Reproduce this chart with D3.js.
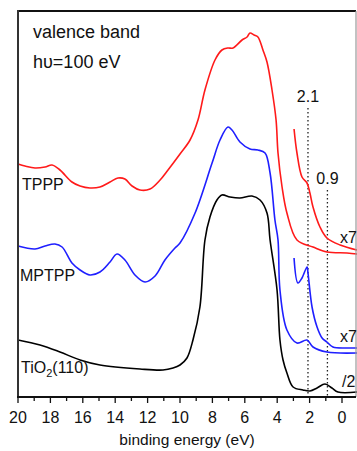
<!DOCTYPE html>
<html>
<head>
<meta charset="utf-8">
<script src="https://cdn.jsdelivr.net/npm/d3@7"></script>
<style>
  html, body { margin: 0; padding: 0; background: #fff; }
  svg text { font-family: "Liberation Sans", Arial, sans-serif; fill: #111; }
</style>
</head>
<body>
<div id="chart"></div>
<script>
// binding energy (eV) and intensity (arb. units)
const tpppEnergy = [20.0, 19.57, 18.95, 18.33, 17.9, 17.41, 16.67, 16.17, 15.56, 14.94, 14.32, 13.83, 13.4, 12.96, 12.47, 11.85, 11.23, 10.74, 10.0, 9.38, 8.89, 8.46, 7.84, 7.41, 7.04, 6.73, 6.17, 5.86, 5.68, 5.43, 5.19, 4.88, 4.63, 4.32, 4.07, 3.95, 3.7, 3.4, 2.78, 1.79, 0.93, -0.31, -0.93];
const tpppIntensity = [233, 231, 229, 230, 232, 227, 215, 211, 209, 210, 215, 219, 218, 211, 207, 208, 217, 227, 243, 257, 277, 307, 337, 347, 349, 349, 357, 360, 364, 362, 360, 347, 335, 307, 277, 244, 210, 184, 157, 150, 145, 144, 143];

const tpppZoomEnergy = [2.96, 2.78, 2.47, 2.16, 1.98, 1.79, 1.36, 0.93, 0.12, -0.93];
const tpppZoomIntensity = [268, 244, 220, 214, 204, 190, 170, 159, 152, 147];

const mptppEnergy = [20.0, 18.95, 18.33, 17.72, 17.28, 16.67, 16.17, 15.56, 14.94, 14.32, 13.89, 13.4, 12.78, 12.16, 11.54, 10.93, 10.31, 10.0, 9.07, 8.02, 7.53, 7.04, 6.79, 6.3, 5.68, 5.19, 4.75, 4.44, 4.14, 3.95, 3.83, 3.4, 2.78, 2.16, 1.79, 0.93, -0.93];
const mptppIntensity = [151, 148, 151, 153, 150, 134, 127, 122, 125, 135, 143, 137, 122, 115, 121, 137, 149, 154, 184, 234, 257, 270, 267, 255, 248, 247, 244, 224, 177, 157, 107, 67, 54, 57, 50, 45, 44];

const mptppZoomEnergy = [2.96, 2.72, 2.47, 2.16, 2.1, 1.85, 1.54, 1.23, 0.93, 0.56, -0.31, -0.93];
const mptppZoomIntensity = [139, 114, 119, 130, 124, 90, 70, 59, 55, 50, 49, 49];

const tio2Energy = [20.0, 18.64, 17.41, 16.17, 14.94, 12.47, 11.05, 10.43, 10.0, 9.57, 9.2, 8.77, 8.46, 8.15, 7.72, 7.41, 6.91, 6.3, 5.56, 5.06, 4.63, 4.44, 4.01, 3.83, 3.64, 3.4, 3.02, 2.41, 1.98, 1.54, 1.05, 0.62, 0.25, -0.93];
const tio2Intensity = [57, 52, 45, 37, 32, 28, 27, 29, 32, 39, 57, 90, 157, 180, 197, 202, 200, 199, 201, 197, 184, 157, 107, 57, 37, 24, 10, 7, 6, 9, 13, 9, 5, 5];

const xTicksMajor = [20, 18, 16, 14, 12, 10, 8, 6, 4, 2, 0];
const xTicksMinor = [19, 17, 15, 13, 11, 9, 7, 5, 3, 1];
const markerEnergies = [2.1, 0.9];
const markerLabels = ["2.1", "0.9"];

const width = 357, height = 451;
const svg = d3.select("#chart").append("svg")
    .attr("width", width)
    .attr("height", height);

const x = d3.scaleLinear().domain([20, 0]).range([18, 342]);
const y = d3.scaleLinear().domain([0, 386]).range([397, 11]);
const right = 356;

const line = d3.line()
    .x(d => x(d[0]))
    .y(d => y(d[1]))
    .curve(d3.curveCatmullRom.alpha(0.5));

function draw(energy, intensity, color) {
    svg.append("path")
        .datum(energy.map((e, i) => [e, intensity[i]]))
        .attr("fill", "none")
        .attr("stroke", color)
        .attr("stroke-width", 1.6)
        .attr("stroke-linejoin", "round")
        .attr("d", line);
}

// dotted markers
const markerTop = [108, 190];
markerEnergies.forEach((e, i) => {
    svg.append("line")
        .attr("x1", x(e)).attr("x2", x(e))
        .attr("y1", markerTop[i]).attr("y2", y(0))
        .attr("stroke", "#222")
        .attr("stroke-width", 1.3)
        .attr("stroke-dasharray", "1.5,2.5");
    svg.append("text")
        .attr("x", x(e))
        .attr("y", markerTop[i] - 6)
        .attr("text-anchor", "middle")
        .style("font-size", "16px")
        .text(markerLabels[i]);
});

draw(tpppEnergy, tpppIntensity, "#ff1a1a");
draw(tpppZoomEnergy, tpppZoomIntensity, "#ff1a1a");
draw(mptppEnergy, mptppIntensity, "#1f1fff");
draw(mptppZoomEnergy, mptppZoomIntensity, "#1f1fff");
draw(tio2Energy, tio2Intensity, "#000");

// frame
svg.append("line").attr("x1", 18).attr("x2", right).attr("y1", 11).attr("y2", 11)
    .attr("stroke", "#111").attr("stroke-width", 2);
svg.append("line").attr("x1", right).attr("x2", right).attr("y1", 11).attr("y2", 397)
    .attr("stroke", "#999").attr("stroke-width", 1.2);
svg.append("line").attr("x1", 18).attr("x2", 18).attr("y1", 10).attr("y2", 398)
    .attr("stroke", "#333").attr("stroke-width", 2);

// bottom axis
const axis = svg.append("g").attr("transform", `translate(0, ${y(0)})`);
axis.append("line").attr("x1", 17).attr("x2", right).attr("y1", 0).attr("y2", 0)
    .attr("stroke", "#111").attr("stroke-width", 2);
axis.selectAll(".major").data(xTicksMajor).enter().append("line")
    .attr("x1", d => x(d)).attr("x2", d => x(d)).attr("y1", 0).attr("y2", 6)
    .attr("stroke", "#111").attr("stroke-width", 1.3);
axis.selectAll(".minor").data(xTicksMinor).enter().append("line")
    .attr("x1", d => x(d)).attr("x2", d => x(d)).attr("y1", 0).attr("y2", 4)
    .attr("stroke", "#111").attr("stroke-width", 1.3);
axis.selectAll(".lbl").data(xTicksMajor).enter().append("text")
    .attr("x", d => x(d)).attr("y", 26)
    .attr("text-anchor", "middle")
    .style("font-size", "16px")
    .text(d => d);

svg.append("text").attr("x", 187).attr("y", 445).attr("text-anchor", "middle")
    .style("font-size", "15.5px").text("binding energy (eV)");

// annotations
svg.append("text").attr("x", 33).attr("y", 38).style("font-size", "18px").text("valence band");
svg.append("text").attr("x", 33).attr("y", 68).style("font-size", "18px").text("hυ=100 eV");
svg.append("text").attr("x", 22).attr("y", 190).style("font-size", "16px").text("TPPP");
svg.append("text").attr("x", 20).attr("y", 281).style("font-size", "16px").text("MPTPP");
const tio = svg.append("text").attr("x", 21).attr("y", 373).style("font-size", "16px");
tio.append("tspan").text("TiO");
tio.append("tspan").attr("dy", 4).style("font-size", "11px").text("2");
tio.append("tspan").attr("dy", -4).text("(110)");
svg.append("text").attr("x", 340).attr("y", 243).style("font-size", "16px").text("x7");
svg.append("text").attr("x", 340).attr("y", 342).style("font-size", "16px").text("x7");
svg.append("text").attr("x", 342).attr("y", 387).style("font-size", "16px").text("/2");
</script>
</body>
</html>
